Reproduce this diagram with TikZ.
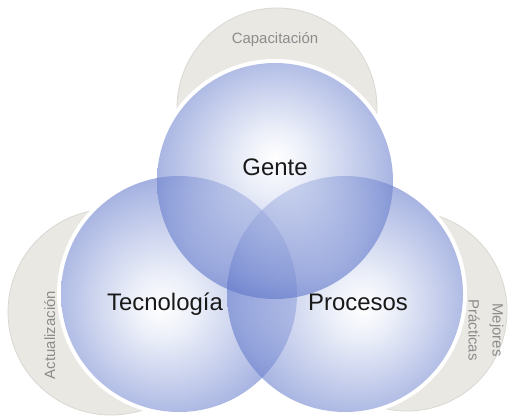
\documentclass[tikz,border=0pt]{standalone}
\usepackage{fontspec}
\setmainfont{Liberation Sans}
\definecolor{cres}{HTML}{EAE8E3}
\definecolor{cresedge}{HTML}{DAD8D2}
\definecolor{crestext}{HTML}{8C8C8C}
\definecolor{bA}{RGB}{255,255,255}
\definecolor{bB}{RGB}{222,228,245}
\definecolor{bC}{RGB}{118,138,210}
\definecolor{bD}{RGB}{32,62,178}
\pgfdeclareradialshading{sphT}{\pgfpoint{0bp}{5bp}}{color(0bp)=(bA); color(7bp)=(bB); color(24bp)=(bC); color(35.4bp)=(bD); color(50bp)=(bD)}
\pgfdeclareradialshading{sphL}{\pgfpoint{-4bp}{-3bp}}{color(0bp)=(bA); color(7bp)=(bB); color(24bp)=(bC); color(35.4bp)=(bD); color(50bp)=(bD)}
\pgfdeclareradialshading{sphR}{\pgfpoint{4bp}{-3bp}}{color(0bp)=(bA); color(7bp)=(bB); color(24bp)=(bC); color(35.4bp)=(bD); color(50bp)=(bD)}
\begin{document}
\begin{tikzpicture}[x=1bp,y=1bp,
  crescent/.style={fill=cres, draw=cresedge, line width=0.8bp},
  sphere/.style={opacity=0.6},
  mainlabel/.style={font=\fontsize{24}{28}\selectfont, text=black!90, inner sep=0pt, anchor=base},
  sidelabel/.style={font=\fontsize{15}{24}\selectfont, text=crestext, inner sep=0pt, align=center}]
\useasboundingbox (0,0) rectangle (510,416);
\fill[white] (0,0) rectangle (510,416);
\coordinate (T) at (275,235);
\coordinate (L) at (179,122);
\coordinate (R) at (345,122);
\coordinate (cT) at (277,308);
\coordinate (cL) at (111,104);
\coordinate (cR) at (407,105);
% crescents
\path[crescent] (cT) circle[radius=100];
\path[crescent] (cL) circle[radius=103];
\path[crescent] (cR) circle[radius=100];
% white rims
\fill[white] (T) circle[radius=122];
\fill[white] (L) circle[radius=122];
\fill[white] (R) circle[radius=122];
% spheres
\shade[sphere, shading=sphL] (L) circle[radius=118];
\shade[sphere, shading=sphR] (R) circle[radius=118];
\shade[sphere, shading=sphT] (T) circle[radius=118];
% labels
\node[mainlabel] (gente) at (275,241) {Gente};
\node[mainlabel] (tecno) at (165,106) {Tecnología};
\node[mainlabel] (proc) at (358,106) {Procesos};
\node[sidelabel, anchor=base] (capa) at (275,373) {Capacitación};
\node[sidelabel, anchor=base, rotate=90] (actu) at (55,81) {Actualización};
\node[sidelabel, rotate=-90] (mejor) at (486,86) {Mejores\\Prácticas};
\end{tikzpicture}
\end{document}
